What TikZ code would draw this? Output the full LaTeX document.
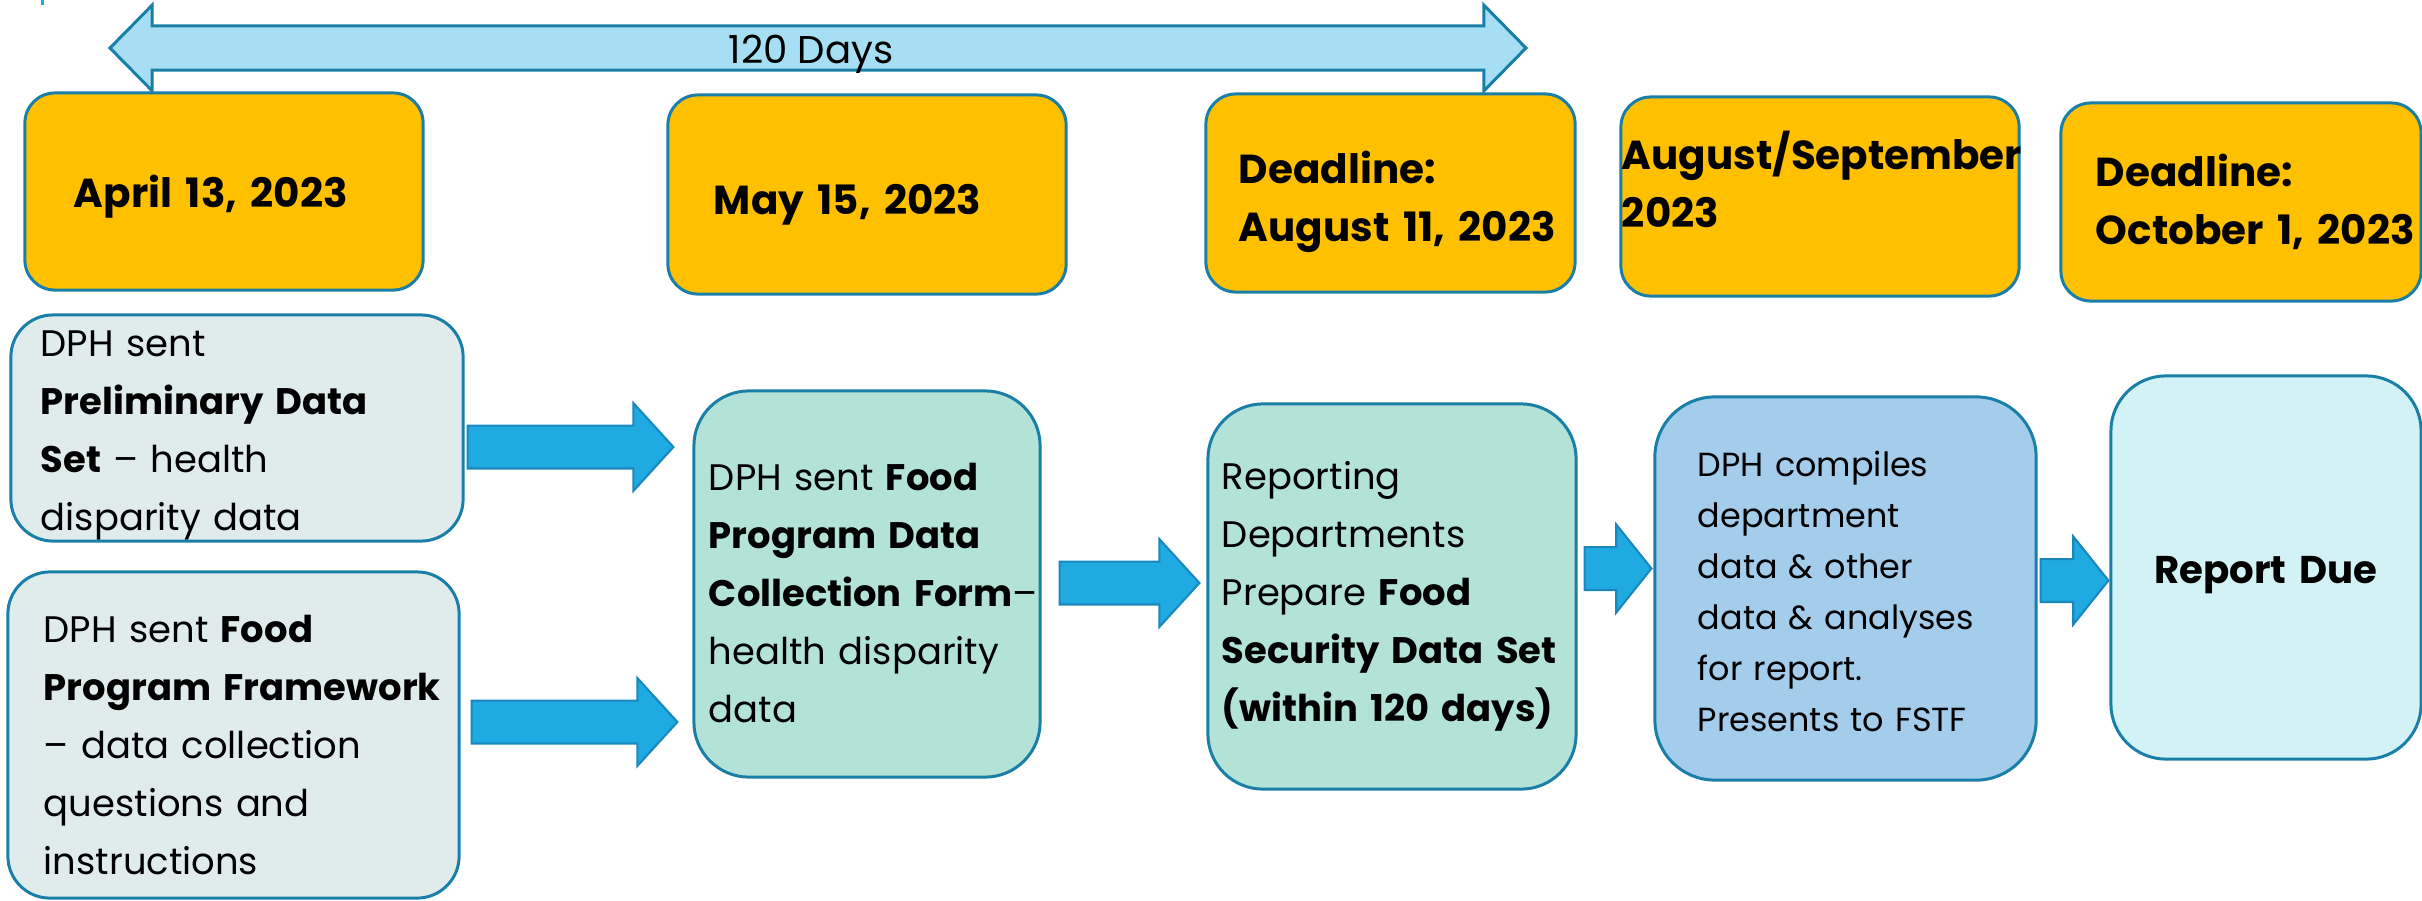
\documentclass[tikz,border=0pt]{standalone}
\usepackage{fontspec}
\setmainfont{Poppins}
\usetikzlibrary{arrows.meta, positioning, calc}

\definecolor{gold}{HTML}{FFC000}
\definecolor{edge}{HTML}{1A7FA8}
\definecolor{greybox}{HTML}{E0ECEC}
\definecolor{mint}{HTML}{B3E3D6}
\definecolor{skyblue}{HTML}{A4CDEC}
\definecolor{paleblue}{HTML}{D3F2F6}
\definecolor{arrowfill}{HTML}{1FAAE1}
\definecolor{arrowedge}{HTML}{1A88BC}
\definecolor{spanfill}{HTML}{A6DFF4}

\tikzset{
  datebox/.style={draw=edge, line width=0.85pt, fill=gold, rounded corners=0.3cm,
    align=left, font=\fontsize{11.5}{16.5}\selectfont\bfseries},
  stepbox/.style={draw=edge, line width=0.85pt, rounded corners=0.42cm, inner ysep=0pt,
    align=left, font=\fontsize{10.5}{16.5}\selectfont},
  flowarrow/.style={draw=arrowedge, line width=0.6pt, fill=arrowfill},
  spanarrow/.style={draw=edge, line width=0.85pt, fill=spanfill}
}

% block arrow from one node to the next (#1 = head length)
\newcommand{\flowarrow}[3][11.4pt]{%
  \draw[flowarrow] let \p1=(#2), \p2=(#3) in
    (\x1,\y1+6.1pt) -- (\x2-#1,\y1+6.1pt) -- (\x2-#1,\y1+12.5pt) -- (\x2,\y1)
    -- (\x2-#1,\y1-12.5pt) -- (\x2-#1,\y1-6.1pt) -- (\x1,\y1-6.1pt) -- cycle;}
% invisible strut to push a text block down (#1) or up (#2)
\newcommand{\lift}[1]{\rule{0pt}{#1}}
\newcommand{\sink}[1]{\rule[-#1]{0pt}{#1}}

\begin{document}
\begin{tikzpicture}[x=0.01cm, y=-0.01cm]
  \useasboundingbox (0,0) rectangle (2422,900);
  \fill[arrowfill] (41,0) rectangle (44,5);

  % 120 days span
  \coordinate (spanL) at (110,48);
  \coordinate (spanR) at (1526,48);
  \draw[spanarrow] let \p1=(spanL), \p2=(spanR) in
    (\x1,\y1) -- (\x1+12pt,\y1+12.2pt) -- (\x1+12pt,\y1+6.3pt) -- (\x2-12pt,\y1+6.3pt)
    -- (\x2-12pt,\y1+12.2pt) -- (\x2,\y1) -- (\x2-12pt,\y1-12.2pt) -- (\x2-12pt,\y1-6.3pt)
    -- (\x1+12pt,\y1-6.3pt) -- (\x1+12pt,\y1-12.2pt) -- cycle;
  \node[font=\fontsize{11}{12}\selectfont, anchor=base] (days) at ($(spanL)!0.5!(spanR)+(-7,15)$) {120 Days};

  % Dates
  \node[datebox, text width=3.00cm, inner xsep=0.49cm, minimum height=1.97cm] (apr) at (224,191.5) {\lift{12.2pt}April 13, 2023};
  \node[datebox, text width=3.06cm, inner xsep=0.46cm, minimum height=1.99cm] (may) at (867,194.5) {\lift{14.7pt}May 15, 2023};
  \node[datebox, text width=3.03cm, inner xsep=0.33cm, minimum height=1.98cm] (aug) at (1390.5,193) {\lift{14.2pt}Deadline:\\\mbox{August 11, 2023}};
  \node[datebox, text width=3.96cm, inner xsep=0.01cm, minimum height=1.99cm] (sep) at (1820,196.5) {August/September\\2023\sink{9.7pt}};
  \node[datebox, text width=2.90cm, inner xsep=0.35cm, minimum height=1.98cm] (oct) at (2241,202) {Deadline:\\\mbox{October 1, 2023}};

  % Steps
  \node[stepbox, fill=greybox, text width=3.92cm, inner xsep=0.30cm, minimum height=2.26cm] (pre) at (237,428)
    {\lift{11.8pt}DPH sent\\\textbf{Preliminary Data}\\\textbf{Set} – health\\disparity data};
  \node[stepbox, fill=greybox, text width=3.79cm, inner xsep=0.36cm, minimum height=3.26cm] (frame) at (233.5,735)
    {\lift{13.5pt}DPH sent \textbf{Food}\\\mbox{\textbf{Program Framework}}\\– data collection\\questions and\\instructions};
  \node[stepbox, fill=mint, rounded corners=0.55cm, text width=3.16cm, inner xsep=0.15cm, minimum height=3.86cm] (form) at (867,584)
    {\lift{12.9pt}DPH sent \textbf{Food}\\\textbf{Program Data}\\\mbox{\textbf{Collection Form}–}\\health disparity\\data};
  \node[stepbox, fill=mint, rounded corners=0.55cm, text width=3.40cm, inner xsep=0.14cm, minimum height=3.85cm] (prep) at (1392,596.5)
    {Reporting\\Departments\\Prepare \textbf{Food}\\\mbox{\textbf{Security Data Set}}\\\mbox{\textbf{(within 120 days)}}};
  \node[stepbox, fill=skyblue, rounded corners=0.6cm, text width=2.95cm, inner xsep=0.43cm, minimum height=3.83cm,
    font=\fontsize{9.5}{14.5}\selectfont] (comp) at (1845.5,588.5)
    {\lift{9pt}DPH compiles\\department\\data \& other\\data \& analyses\\for report.\\Presents to FSTF};
  \node[stepbox, fill=paleblue, rounded corners=0.55cm, text width=2.70cm, inner xsep=0.2cm, minimum height=3.83cm,
    align=center, font=\fontsize{11}{14}\selectfont\bfseries] (due) at (2266,567.5) {\lift{12.3pt}Report Due};

  % Arrows
  \flowarrow{$(pre.east)+(3,19)$}{$(form.west)+(-19,0)$}
  \flowarrow{$(frame.east)+(11,-13)$}{$(form.west)+(-15,0)$}
  \flowarrow{$(form.east)+(18,-1)$}{$(prep.west)+(-7,0)$}
  \flowarrow[10pt]{$(prep.east)+(7,-28)$}{$(comp.west)+(-2,0)$}
  \flowarrow[10pt]{$(comp.east)+(3,-8)$}{$(due.west)+(-1,0)$}
\end{tikzpicture}
\end{document}
